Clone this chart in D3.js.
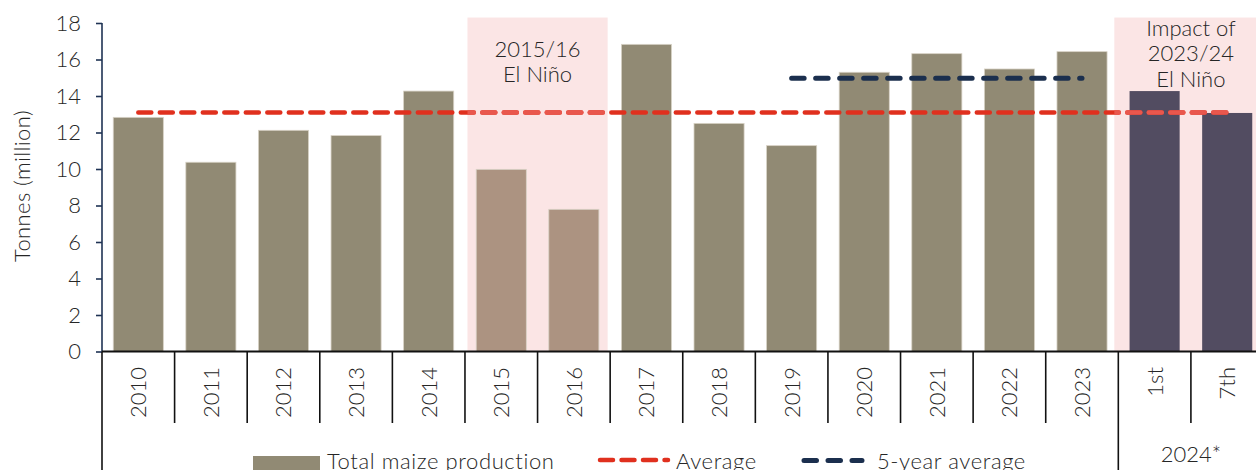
<!DOCTYPE html>
<html>
<head>
<meta charset="utf-8">
<script src="https://cdn.jsdelivr.net/npm/d3@7"></script>
<style>
  body { margin: 0; background: #fff; }
  svg { display: block; font-family: Lato, "Open Sans", sans-serif; font-weight: 300; }
</style>
</head>
<body>
<div id="chart"></div>
<script>
// data
var categories = ["2010", "2011", "2012", "2013", "2014", "2015", "2016", "2017",
  "2018", "2019", "2020", "2021", "2022", "2023", "1st", "7th"];
var production = [12.83, 10.37, 12.12, 11.83, 14.27, 9.98, 7.79, 16.83,
  12.5, 11.28, 15.3, 16.32, 15.48, 16.43, 14.27, 13.07];
var average = [13.1, 13.1, 13.1, 13.1, 13.1, 13.1, 13.1, 13.1,
  13.1, 13.1, 13.1, 13.1, 13.1, 13.1, 13.1, 13.1];
var fiveYearCats = ["2019", "2020", "2021", "2022", "2023"];
var fiveYearAvg = [14.97, 14.97, 14.97, 14.97, 14.97];
var elNinoCats = ["2015", "2016"];
var forecastCats = ["1st", "7th"];
var groupLabels = ["", "2024*"];
var groupStarts = ["2010", "1st"];
var groupEnds = ["2023", "7th"];
var yTicks = [0, 2, 4, 6, 8, 10, 12, 14, 16, 18];
var shadeTop = 18.3;

var width = 1256, height = 470;
var x0 = 102, x1 = 1263.5, yBottom = 351.5, yTop = 23;
var fs = "22px";

var svg = d3.select("#chart").append("svg")
  .attr("width", width)
  .attr("height", height);

var x = d3.scaleBand().domain(categories).range([x0, x1]).padding(0);
var y = d3.scaleLinear().domain([0, 18]).range([yBottom, yTop]);
var bw = x.bandwidth();
var barW = bw * 0.69;

function cx(c){ return x(c) + bw / 2; }

// shaded El Nino areas
var shades = [
  { x: x(elNinoCats[0]) + 2.5, w: x(elNinoCats[1]) + bw - 2.5 - (x(elNinoCats[0]) + 2.5) },
  { x: x(forecastCats[0]) - 4, w: width - (x(forecastCats[0]) - 4) + 10 }
];

svg.selectAll(".shade")
  .data(shades)
  .enter().append("rect")
  .attr("class", "shade")
  .attr("x", function(d){ return d.x; })
  .attr("width", function(d){ return d.w; })
  .attr("y", y(shadeTop))
  .attr("height", yBottom - y(shadeTop))
  .attr("fill", "#fbe5e5");

var clip = svg.append("clipPath").attr("id", "shadeClip");
clip.selectAll("rect")
  .data(shades)
  .enter().append("rect")
  .attr("x", function(d){ return d.x; })
  .attr("width", function(d){ return d.w; })
  .attr("y", y(shadeTop))
  .attr("height", yBottom - y(shadeTop));

// bars
function barColor(c){
  if(elNinoCats.indexOf(c) >= 0) return "#ac9381";
  if(forecastCats.indexOf(c) >= 0) return "#524c61";
  return "#918a74";
}

svg.selectAll(".bar")
  .data(categories)
  .enter().append("rect")
  .attr("class", "bar")
  .attr("x", function(d){ return x(d) + (bw - barW) / 2; })
  .attr("width", barW)
  .attr("y", function(d, i){ return y(production[i]); })
  .attr("height", function(d, i){ return yBottom - y(production[i]); })
  .attr("fill", function(d){ return barColor(d); })
  .attr("stroke", function(d){ return forecastCats.indexOf(d) >= 0 ? "none" : "#d8d2c6"; })
  .attr("stroke-width", 0.8);

// lines
var line = d3.line()
  .x(function(d){ return cx(d.c); })
  .y(function(d){ return y(d.v); });

var avgData = categories.map(function(c, i){ return { c: c, v: average[i] }; });
var fiveData = fiveYearCats.map(function(c, i){ return { c: c, v: fiveYearAvg[i] }; });

svg.append("path")
  .datum(fiveData)
  .attr("d", line)
  .attr("fill", "none")
  .attr("stroke", "#1b2f4e")
  .attr("stroke-width", 5)
  .attr("stroke-linecap", "round")
  .attr("stroke-dasharray", "12.5,11.5");

svg.append("path")
  .datum(avgData)
  .attr("d", line)
  .attr("fill", "none")
  .attr("stroke", "#e0301e")
  .attr("stroke-width", 4.5)
  .attr("stroke-linecap", "round")
  .attr("stroke-dasharray", "13,8.5");

svg.append("path")
  .datum(avgData)
  .attr("d", line)
  .attr("fill", "none")
  .attr("stroke", "#e9574d")
  .attr("stroke-width", 4.6)
  .attr("stroke-linecap", "round")
  .attr("stroke-dasharray", "13,8.5")
  .attr("clip-path", "url(#shadeClip)");

// y axis
var yAxis = d3.axisLeft(y).tickValues(yTicks).tickSize(6).tickPadding(15);
var gy = svg.append("g")
  .attr("transform", "translate(" + x0 + ",0)")
  .call(yAxis);
gy.select(".domain").attr("stroke", "#1f3354").attr("stroke-width", 1.6).attr("d", "M0," + yTop + "V" + yBottom);
gy.selectAll(".tick line").attr("stroke", "#1f3354").attr("stroke-width", 1.6);
gy.selectAll(".tick text")
  .attr("fill", "#262626")
  .style("font-size", fs)
  .style("font-family", "Lato, 'Open Sans', sans-serif")
  .style("font-weight", 300);

svg.append("text")
  .attr("transform", "translate(30,186) rotate(-90)")
  .attr("text-anchor", "middle")
  .attr("fill", "#262626")
  .style("font-size", fs)
  .style("letter-spacing", "0.4px")
  .text("Tonnes (million)");

// x axis: baseline, dividers, labels
svg.append("line")
  .attr("x1", x0).attr("x2", width)
  .attr("y1", yBottom).attr("y2", yBottom)
  .attr("stroke", "#111").attr("stroke-width", 2);

var dividers = categories.concat(["end"]);
svg.selectAll(".div")
  .data(dividers)
  .enter().append("line")
  .attr("class", "div")
  .attr("x1", function(d, i){ return x0 + i * bw; })
  .attr("x2", function(d, i){ return x0 + i * bw; })
  .attr("y1", yBottom)
  .attr("y2", function(d){ return groupStarts.indexOf(d) >= 0 ? height : 423; })
  .attr("stroke", "#111")
  .attr("stroke-width", 1.6);

svg.selectAll(".xlab")
  .data(categories)
  .enter().append("text")
  .attr("class", "xlab")
  .attr("transform", function(d){ return "translate(" + (cx(d) + 8) + ",367) rotate(-90)"; })
  .attr("text-anchor", "end")
  .attr("fill", "#262626")
  .style("font-size", fs)
  .text(function(d){ return d; });

svg.selectAll(".glab")
  .data(groupLabels)
  .enter().append("text")
  .attr("class", "glab")
  .attr("x", function(d, i){ return (x(groupStarts[i]) + x(groupEnds[i]) + bw) / 2; })
  .attr("y", 462)
  .attr("text-anchor", "middle")
  .attr("fill", "#262626")
  .style("font-size", fs)
  .text(function(d){ return d; });

// annotations
var ann1 = svg.append("text")
  .attr("text-anchor", "middle")
  .attr("fill", "#262626")
  .style("font-size", fs);
ann1.append("tspan").attr("x", x(elNinoCats[1])).attr("y", 57).text("2015/16");
ann1.append("tspan").attr("x", x(elNinoCats[1])).attr("y", 82).text("El Niño");

var ann2 = svg.append("text")
  .attr("text-anchor", "middle")
  .attr("fill", "#262626")
  .style("font-size", fs);
var ax2 = x(forecastCats[1]);
ann2.append("tspan").attr("x", ax2).attr("y", 36).text("Impact of");
ann2.append("tspan").attr("x", ax2).attr("y", 61).text("2023/24");
ann2.append("tspan").attr("x", ax2).attr("y", 87).text("El Niño");

// legend
var leg = svg.append("g").style("letter-spacing", "0.6px");
leg.append("rect")
  .attr("x", 253).attr("y", 456).attr("width", 67).attr("height", 20)
  .attr("fill", "#918a74");
leg.append("text").attr("x", 327).attr("y", 469).attr("fill", "#262626")
  .style("font-size", fs).text("Total maize production");

leg.append("line")
  .attr("x1", 600).attr("x2", 668).attr("y1", 460).attr("y2", 460)
  .attr("stroke", "#e0301e").attr("stroke-width", 4.5)
  .attr("stroke-linecap", "round").attr("stroke-dasharray", "13,8.5");
leg.append("text").attr("x", 676).attr("y", 469).attr("fill", "#262626")
  .style("font-size", fs).text("Average");

leg.append("line")
  .attr("x1", 804).attr("x2", 862).attr("y1", 460.5).attr("y2", 460.5)
  .attr("stroke", "#1b2f4e").attr("stroke-width", 5)
  .attr("stroke-linecap", "round").attr("stroke-dasharray", "12.5,11.5");
leg.append("text").attr("x", 877).attr("y", 469).attr("fill", "#262626")
  .style("font-size", fs).text("5-year average");
</script>
</body>
</html>
